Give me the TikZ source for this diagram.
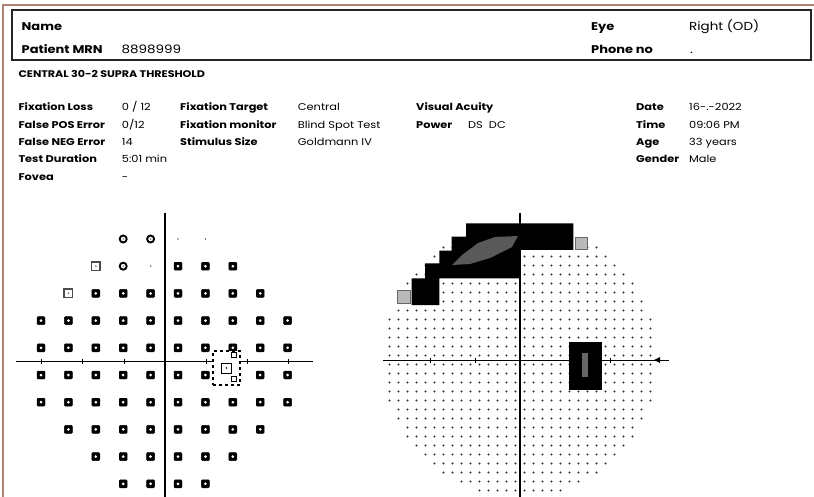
\documentclass[tikz,border=0pt]{standalone}
\usepackage{fontspec}
\setmainfont{Poppins}
\newfontfamily\wideface{Poppins}[FakeStretch=1.16]
\usetikzlibrary{positioning,arrows.meta}
\definecolor{framec}{RGB}{178,126,118}

\begin{document}
\begin{tikzpicture}[x=1pt,y=-1pt,
    lab/.style={anchor=base west, inner sep=0pt, font=\wideface\bfseries\fontsize{9.8}{11}\selectfont},
    val/.style={anchor=base west, inner sep=0pt, font=\wideface\fontsize{9.8}{11}\selectfont},
    hlab/.style={lab, font=\wideface\bfseries\fontsize{11.2}{13}\selectfont},
    hval/.style={val, font=\wideface\fontsize{11.6}{13}\selectfont},
    blk/.style={draw=black, fill=black, minimum size=8pt, inner sep=0pt, rounded corners=1pt,
        path picture={\fill[white] (path picture bounding box.center) circle (1.5);}},
    ring/.style={circle, draw=black, line width=1.9pt, fill=white, minimum size=7pt, inner sep=0pt,
        path picture={\fill[gray] (path picture bounding box.center) circle (0.9);}},
    opensq/.style={draw=gray!60!black, line width=1.4pt, fill=white, minimum size=8.5pt, inner sep=0pt,
        path picture={\fill[gray] (path picture bounding box.center) circle (1);}},
    speck/.style={circle, fill=gray!80!black, minimum size=1.8pt, inner sep=0pt},
    fdot/.style={fill=black!80},
    frame/.style={draw=framec, line width=1.2pt},
    ]
\useasboundingbox (0,0) rectangle (814,497);
\draw[frame] (3,497) -- (3,5) -- (814,5);

% header box
\draw[line width=1.4pt, black!85] (12,10) rectangle (811,60);
\node[hlab] (name) at (21.5,30.5) {Name};
\node[hlab] (mrn) at (21.5,54) {Patient MRN};
\node[hval] (mrnv) at (121.5,54) {8898999};
\node[hlab] (eye) at (591,30.5) {Eye};
\node[hval] (eyev) at (689,30.5) {Right (OD)};
\node[hlab] (phone) at (591,54) {Phone no};
\node[hval] (phonev) at (690,54) {.};
\node[lab, font=\wideface\bfseries\fontsize{9.6}{10}\selectfont] (test) at (18.3,77.5)
    {CENTRAL 30-2 SUPRA THRESHOLD};

% test parameters
\foreach \t/\v [count=\k] in {{Fixation Loss}/{0 / 12}, {False POS Error}/{0/12},
    {False NEG Error}/14, {Test Duration}/{5:01 min}, Fovea/-}{
  \node[lab] (fa-\k) at (18.3,{111+17.3*(\k-1)}) {\t};
  \node[val] (fv-\k) at (121.7,{111+17.3*(\k-1)}) {\v};
}
\foreach \t/\v [count=\k] in {{Fixation Target}/Central, {Fixation monitor}/{Blind Spot Test},
    {Stimulus Size}/{Goldmann IV}}{
  \node[lab] (fb-\k) at (180,{111+17.3*(\k-1)}) {\t};
  \node[val] (fw-\k) at (297.7,{111+17.3*(\k-1)}) {\v};
}
\node[lab] (va) at (416,111) {Visual Acuity};
\node[lab] (pw) at (416,128.3) {Power};
\node[val] (pwv) at (468,128.3) {DS\ \ DC};
\foreach \t/\v [count=\k] in {Date/{16-.-2022}, Time/{09:06 PM}, Age/{33 years}, Gender/Male}{
  \node[lab] (fc-\k) at (636,{111+17.3*(\k-1)}) {\t};
  \node[val] (fx-\k) at (689,{111+17.3*(\k-1)}) {\v};
}

% left plot: threshold symbols
\draw[line width=1.3pt] (165,213) -- (165,497);
\draw[line width=0.8pt] (16,361) -- (313,361);
\foreach \t in {41,82,124,206,247,288}
  \draw[line width=0.8pt] (\t,358.5) -- (\t,363.5);
\foreach \r/\cs in {2/{6,7,8}, 3/{3,...,9}, 4/{1,...,10}, 5/{1,...,10}, 6/{1,...,7,9,10},
    7/{1,...,10}, 8/{2,...,9}, 9/{3,...,8}, 10/{4,...,7}}
  \foreach \c in \cs
    \node[blk] (p-\r-\c) at ({41+27.4*(\c-1)},{239+27.2*(\r-1)}) {};
\foreach \r/\c in {1/4, 1/5, 2/4}
  \node[ring] (p-\r-\c) at ({41+27.4*(\c-1)},{239+27.2*(\r-1)}) {};
\foreach \r/\c in {2/3, 3/2}
  \node[opensq] (p-\r-\c) at ({41+27.4*(\c-1)},{239+27.2*(\r-1)}) {};
\foreach \r/\c in {1/6, 1/7, 2/5}
  \node[speck] (p-\r-\c) at ({41+27.4*(\c-1)},{239+27.2*(\r-1)}) {};
% blind spot
\node[draw, dashed, line width=1.5pt, fill=white, minimum width=27pt, minimum height=34pt,
    inner sep=0pt] (bs) at (226.5,368) {};
\node[draw, line width=1pt, minimum size=10pt, inner sep=0pt,
    path picture={\fill (path picture bounding box.center) circle (0.8);}] (bs-c) at (bs.center) {};
\node[draw, line width=0.9pt, minimum size=5pt, inner sep=0pt] (bs-t) at (234,355) {};
\node[draw, line width=0.9pt, minimum size=5pt, inner sep=0pt] (bs-b) at (234,379) {};

% right plot: grey scale
\foreach \i in {-14,...,15}
  \foreach \j in {-14,...,15}{
    \pgfmathtruncatemacro\ins{((\i-0.5)^2+(\j-0.5)^2<232)?1:0}
    \ifnum\ins=1 \fill[fdot] ({520+9*\i-4.5},{360+9*\j-4.5}) circle (1.1); \fi
  }
\draw[line width=1.2pt] (520,213) -- (520,497);
\draw[line width=1pt] (383,360) -- (669,360);
\foreach \t in {430,475,610}
  \draw[line width=0.8pt] (\t,357.5) -- (\t,362.5);
\fill (654,360) -- (660,357) -- (660,363) -- cycle;
\fill[black] (466,223.3) -- (573.3,223.3) -- (573.3,250) -- (520,250) -- (520,278.3)
  -- (439.3,278.3) -- (439.3,305) -- (411.7,305) -- (411.7,278.3) -- (425,278.3)
  -- (425,263.3) -- (439.3,263.3) -- (439.3,250.7) -- (451.7,250.7) -- (451.7,236.7)
  -- (466,236.7) -- cycle;
\fill[black!65] (452,265) -- (462,255) -- (478,243) -- (495,237) -- (518,236) -- (512,247)
  -- (490,258) -- (470,264) -- cycle;
\filldraw[fill=gray!55, draw=gray!80!black, line width=0.6pt] (575,237) rectangle (587.3,249.3);
\filldraw[fill=gray!55, draw=gray!80!black, line width=0.6pt] (397.3,290.5) rectangle (410.7,303.3);
\fill[black] (569,341.7) rectangle (602.3,390);
\fill[black!60] (581.7,353) rectangle (588.3,377);
\end{tikzpicture}
\end{document}
